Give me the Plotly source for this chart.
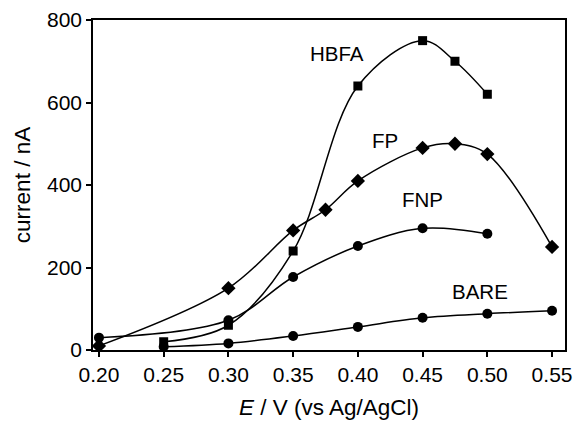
import plotly.graph_objects as go

# Applied potential (V vs Ag/AgCl) and measured current (nA) for each electrode
e_hbfa = [0.25, 0.30, 0.35, 0.40, 0.45, 0.475, 0.50]
i_hbfa = [20, 60, 240, 640, 750, 700, 620]

e_fp = [0.20, 0.30, 0.35, 0.375, 0.40, 0.45, 0.475, 0.50, 0.55]
i_fp = [10, 150, 290, 340, 410, 490, 500, 475, 250]

e_fnp = [0.20, 0.30, 0.35, 0.40, 0.45, 0.50]
i_fnp = [30, 72, 177, 252, 295, 282]

e_bare = [0.25, 0.30, 0.35, 0.40, 0.45, 0.50, 0.55]
i_bare = [8, 16, 34, 56, 78, 88, 95]

labels = ["HBFA", "FP", "FNP", "BARE"]
label_x = [0.3837, 0.421, 0.450, 0.4945]
label_y = [720, 509, 364, 141]

FONT = "Liberation Sans, Arial, sans-serif"

series = [
    (e_hbfa, i_hbfa, "square", 9),
    (e_fp, i_fp, "diamond", 11),
    (e_fnp, i_fnp, "circle", 10),
    (e_bare, i_bare, "circle", 10),
]

fig = go.Figure()
for (x, y, sym, size), name in zip(series, labels):
    fig.add_trace(go.Scatter(
        x=x, y=y, name=name, mode="lines+markers",
        line=dict(color="black", width=1.5, shape="spline", smoothing=1.0),
        marker=dict(symbol=sym, size=size, color="black"),
        cliponaxis=False, showlegend=False,
    ))

for t, x, y in zip(labels, label_x, label_y):
    fig.add_annotation(x=x, y=y, text=t, showarrow=False,
                       font=dict(family=FONT, size=20.5, color="black"))

axis_common = dict(
    showline=True, linecolor="black", linewidth=1.5, mirror=True,
    ticks="outside", ticklen=5, tickwidth=1.5, tickcolor="black",
    showgrid=False, zeroline=False, automargin=False,
    tickfont=dict(family=FONT, size=21, color="black"),
)

fig.update_xaxes(
    range=[0.1954, 0.56], tickvals=[0.20, 0.25, 0.30, 0.35, 0.40, 0.45, 0.50, 0.55],
    tickformat=".2f",
    title=dict(text="<i>E</i> / V (vs Ag/AgCl)", font=dict(family=FONT, size=22.5, color="black"),
               standoff=14),
    **axis_common,
)
fig.update_yaxes(
    range=[0, 800], tickvals=[0, 200, 400, 600, 800],
    title=dict(text="current / nA", font=dict(family=FONT, size=22.5, color="black"),
               standoff=10),
    **axis_common,
)

fig.update_layout(
    width=575, height=426,
    margin=dict(l=93, r=10, t=20, b=76),
    paper_bgcolor="white", plot_bgcolor="white",
)

fig.write_html("out.html")
